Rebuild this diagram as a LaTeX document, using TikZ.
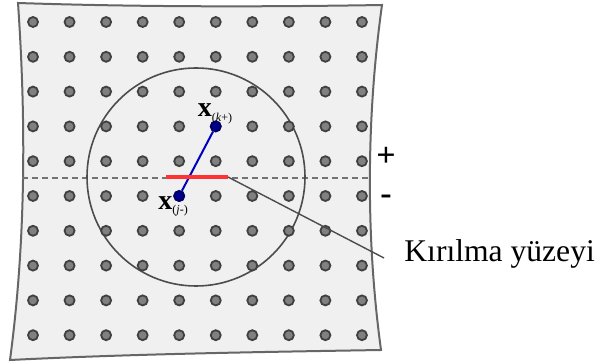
\documentclass[tikz,border=0pt]{standalone}
\usepackage{fontspec}
\setmainfont{Liberation Serif}
\usetikzlibrary{positioning, calc}
\tikzset{
  particle/.style={circle, draw=black!75, fill=black!50, line width=0.9pt,
                   minimum size=5pt, inner sep=0pt},
  bondparticle/.style={particle, draw=blue!40!black, fill=blue!55!black},
  plate/.style={draw=black!60, fill=gray!12, line width=1pt},
  signlabel/.style={font=\fontsize{17}{18}\selectfont\bfseries},
}

\begin{document}
\begin{tikzpicture}[x=0.5pt, y=-0.5pt,
  horizon/.style={draw=black!55, line width=0.7pt, dash pattern=on 3pt off 2pt},
  crack/.style={draw=red!80, line width=1.8pt},
  bond/.style={draw=blue!75!black, line width=1pt},
  leader/.style={draw=black!70, line width=0.7pt}
]
  \useasboundingbox (0,0) rectangle (601,363);

  % deformed plate
  \draw[plate] (18,3) .. controls (140,7) and (260,7) .. (382,5)
    .. controls (366,120) and (366,240) .. (381,350)
    .. controls (260,352) and (130,354) .. (10,360)
    .. controls (26,240) and (26,120) .. (18,3) -- cycle;

  % horizon and crack line
  \draw[horizon] (22,178) -- (368,178);
  \draw[black!70, line width=0.8pt] (196,177) circle (109);

  % particle grid
  \foreach \i in {1,...,10}
    \foreach \j in {1,...,10}
      \node[particle] (p-\i-\j) at ({33+36.55*(\i-1)},{22+34.8*(\j-1)}) {};

  \node[bondparticle] at (p-6-4) {};
  \node[bondparticle] at (p-5-6) {};
  \draw[bond] (p-5-6) -- (p-6-4);

  \coordinate (crackstart) at (166,177);
  \coordinate (crackend) at (228,177);
  \draw[crack] (crackstart) -- (crackend);

  \node (xk) [above right=-1pt and -7pt of p-6-4.north west, inner sep=0pt]
    {\fontsize{14}{14}\selectfont\textbf{x}\textsubscript{\fontsize{6}{6}\selectfont(\textit{k}+)}};
  \node (xj) [below left=-3pt and -5pt of p-5-6.south, inner sep=0pt]
    {\fontsize{14}{14}\selectfont\textbf{x}\textsubscript{\fontsize{6}{6}\selectfont(\textit{j}-)}};

  \node (plus) [signlabel] at (386,157) {+};
  \node (minus) [signlabel] at (386,200) {-};

  \node (surf) [anchor=west, inner sep=0pt, font=\fontsize{15.8}{18}\selectfont] at (404,254) {Kırılma yüzeyi};
  \coordinate (leaderend) at ($(surf.west)+(-20,4)$);
  \draw[leader] (crackend) -- (leaderend);
\end{tikzpicture}
\end{document}
